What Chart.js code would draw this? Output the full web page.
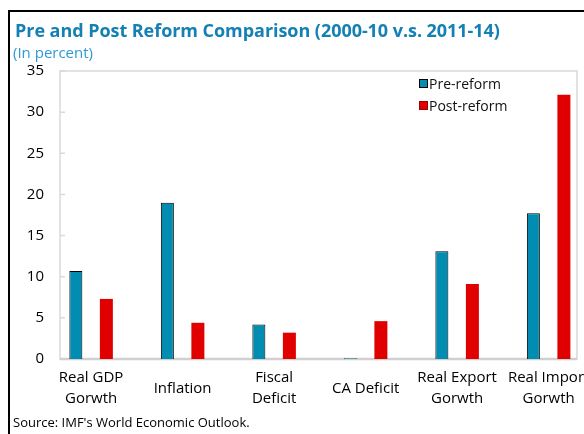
<!DOCTYPE html>
<html>
<head>
<meta charset="utf-8">
<script src="https://cdn.jsdelivr.net/npm/chart.js@4"></script>
<style>
  html, body { margin: 0; padding: 0; background: #fff; overflow: hidden; }
  #wrap { position: relative; width: 584px; height: 434px; }
  #chart { position: absolute; left: 0; top: 0; }
  .frame { position: absolute; left: 8px; top: 10px; width: 600px; height: 440px;
           border-left: 2px solid #000; border-top: 2px solid #000; }
  .title { position: absolute; left: 15px; top: 18px; font: bold 18px "Open Sans", sans-serif;
           color: #1480b4; white-space: nowrap; letter-spacing: -0.05px; }
  .subtitle { position: absolute; left: 13px; top: 42px; font: 15px "Open Sans", sans-serif; color: #2d9ad6; }
  .source { position: absolute; left: 13px; top: 413px; font: 13px "Open Sans", sans-serif; color: #000; white-space: nowrap; }
  .legend { position: absolute; left: 419px; top: 75px; font: 14px "Open Sans", sans-serif; color: #111; }
  .legend div { height: 22px; line-height: 18px; white-space: nowrap; }
  .legend span { display: inline-block; width: 7px; height: 7px; margin-right: 1px; vertical-align: 1px; }
</style>
</head>
<body>
<div id="wrap">
  <canvas id="chart" width="584" height="434"></canvas>
  <div class="frame"></div>
  <div class="title">Pre and Post Reform Comparison (2000-10 v.s. 2011-14)</div>
  <div class="subtitle">(In percent)</div>
  <div class="legend" id="legend"></div>
  <div class="source">Source: IMF's World Economic Outlook.</div>
</div>
<script>
const categories = [["Real GDP", "Gorwth"], "Inflation", ["Fiscal", "Deficit"], "CA Deficit", ["Real Export", "Gorwth"], ["Real Import", "Gorwth"]];
const preReform = [10.7, 19.0, 4.2, 0.1, 13.1, 17.7];
const postReform = [7.3, 4.4, 3.2, 4.6, 9.1, 32.1];
const yTicks = [0, 5, 10, 15, 20, 25, 30, 35];

const PRE = "#008db1";
const POST = "#e00000";
const font = { family: "'Open Sans', sans-serif", size: 15 };

const legendNode = document.getElementById("legend");
[["Pre-reform", PRE, "#000"], ["Post-reform", POST, "#a00000"]].forEach(([label, fill, border]) => {
  const row = document.createElement("div");
  row.innerHTML = `<span style="background:${fill};border:1px solid ${border}"></span>${label}`;
  legendNode.appendChild(row);
});

const plotFrame = {
  id: "plotFrame",
  beforeDatasetsDraw(chart) {
    const { ctx, chartArea: a, scales: { y } } = chart;
    ctx.save();
    ctx.strokeStyle = "#d9d9d9";
    ctx.lineWidth = 1.5;
    ctx.strokeRect(a.left, a.top, a.right - a.left, a.bottom - a.top);
    ctx.beginPath();
    y.ticks.forEach((t) => {
      const py = y.getPixelForValue(t.value);
      ctx.moveTo(a.left, py);
      ctx.lineTo(a.left + 5, py);
    });
    ctx.stroke();
    ctx.lineWidth = 2.5;
    ctx.strokeStyle = "#d0d0d0";
    ctx.beginPath();
    ctx.moveTo(a.left, a.bottom);
    ctx.lineTo(a.right, a.bottom);
    ctx.stroke();
    ctx.restore();
  },
};

new Chart(document.getElementById("chart"), {
  type: "bar",
  data: {
    datasets: [
      {
        label: "Pre-reform",
        data: preReform.map((v, i) => ({ x: i, y: v })),
        backgroundColor: PRE,
        borderColor: "#000",
        borderWidth: 1,
        inflateAmount: 0,
      },
      {
        label: "Post-reform",
        data: postReform.map((v, i) => ({ x: i, y: v })),
        backgroundColor: POST,
        borderWidth: 0,
      },
    ],
  },
  options: {
    responsive: false,
    animation: false,
    categoryPercentage: 0.667,
    barPercentage: 0.426,
    layout: { padding: { top: 71, right: 7, bottom: 15, left: 0 } },
    plugins: { legend: { display: false }, tooltip: { enabled: false } },
    scales: {
      x: {
        type: "linear",
        offset: false,
        min: -0.34,
        max: 5.31,
        grid: { display: false, offset: false },
        border: { display: false },
        afterBuildTicks: (s) => { s.ticks = categories.map((_, i) => ({ value: i })); },
        afterFit: (s) => { s.height = 60; s.paddingLeft = 0; s.paddingRight = 0; },
        ticks: {
          callback: (v) => categories[v],
          font: { ...font, lineHeight: 1.4 },
          color: "#000",
          padding: 11,
          maxRotation: 0,
          autoSkip: false,
          crossAlign: "center",
        },
      },
      y: {
        min: 0,
        max: 35,
        grid: { display: false, drawTicks: false },
        border: { display: false },
        afterBuildTicks: (s) => { s.ticks = yTicks.map((v) => ({ value: v })); },
        afterFit: (s) => { s.width = 60; },
        ticks: { font: { ...font, size: 15 }, color: "#000", padding: 16 },
      },
    },
  },
  plugins: [plotFrame],
});
</script>
</body>
</html>
